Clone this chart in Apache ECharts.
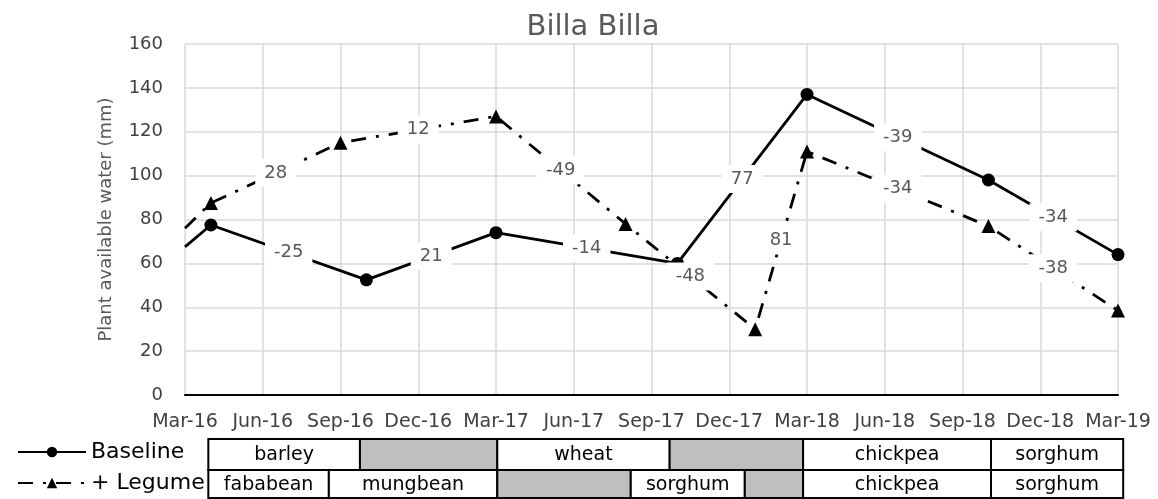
<!DOCTYPE html>
<html lang="en">
<head>
	<meta charset="UTF-8">
	<title>Billa Billa</title>
	<style>
		html, body { margin: 0; padding: 0; background: #fff; }
		#container { width: 1158px; height: 499px; }
	</style>
</head>
<body>
	<div id="container"></div>
	<script src="https://cdn.jsdelivr.net/npm/echarts@6/dist/echarts.min.js"></script>
	<script>
		// axis ticks, quarterly from Mar-16
		var tickLabels = ['Mar-16', 'Jun-16', 'Sep-16', 'Dec-16', 'Mar-17', 'Jun-17', 'Sep-17',
			'Dec-17', 'Mar-18', 'Jun-18', 'Sep-18', 'Dec-18', 'Mar-19'];

		// Baseline series
		var baselineDates = ['2016-03', '2016-04', '2016-10', '2017-03', '2017-10', '2018-03', '2018-10', '2019-03'];
		var baselineValues = [67.5, 77.5, 52.5, 74, 60, 137, 98, 64];
		var baselineChanges = ['', '-25', '21', '-14', '77', '-39', '-34'];

		// + Legume series
		var legumeDates = ['2016-03', '2016-04', '2016-09', '2017-03', '2017-08', '2018-01', '2018-03', '2018-10', '2019-03'];
		var legumeValues = [76, 87.5, 115, 127, 78, 30, 111, 77, 38.5];
		var legumeChanges = ['', '28', '12', '-49', '-48', '81', '-34', '-38'];

		// crop sequence table (months from Mar-16)
		var baselineCrops = ['barley', '', 'wheat', '', 'chickpea', 'sorghum'];
		var baselineCropStart = [0.9, 6.75, 12.05, 18.7, 23.85, 31.1];
		var baselineCropEnd = [6.75, 12.05, 18.7, 23.85, 31.1, 36.2];
		var legumeCrops = ['fababean', 'mungbean', '', 'sorghum', '', 'chickpea', 'sorghum'];
		var legumeCropStart = [0.9, 5.55, 12.05, 17.2, 21.6, 23.85, 31.1];
		var legumeCropEnd = [5.55, 12.05, 17.2, 21.6, 23.85, 31.1, 36.2];

		var FONT = 'DejaVu Sans';

		function monthIdx(s) {
			var p = s.split('-');
			return (Number(p[0]) - 2016) * 12 + (Number(p[1]) - 3);
		}

		function linePoints(dates, values) {
			return dates.map(function(d, i) {
				var item = { value: [monthIdx(d), values[i]] };
				if (i === 0) item.symbol = 'none';
				return item;
			});
		}

		// change labels sit half way along each segment
		var changes = [];
		function addChanges(dates, values, labels) {
			for (var i = 1; i < dates.length; i++) {
				if (!labels[i - 1]) continue;
				changes.push([(monthIdx(dates[i - 1]) + monthIdx(dates[i])) / 2,
					(values[i - 1] + values[i]) / 2, labels[i - 1]]);
			}
		}
		addChanges(baselineDates, baselineValues, baselineChanges);
		addChanges(legumeDates, legumeValues, legumeChanges);

		var cells = [];
		baselineCrops.forEach(function(c, i) { cells.push([baselineCropStart[i], baselineCropEnd[i], 0, c]); });
		legumeCrops.forEach(function(c, i) { cells.push([legumeCropStart[i], legumeCropEnd[i], 1, c]); });

		var rowTop = [439, 470];
		var rowH = [31, 28];

		function renderCell(params, api) {
			var cell = cells[params.dataIndex];
			var x0 = api.coord([cell[0], 0])[0];
			var x1 = api.coord([cell[1], 0])[0];
			var y0 = rowTop[cell[2]];
			var h = rowH[cell[2]];
			return {
				type: 'group',
				children: [{
					type: 'rect',
					shape: { x: x0, y: y0, width: x1 - x0, height: h },
					style: { fill: cell[3] ? '#fff' : '#bfbfbf', stroke: '#000', lineWidth: 2 }
				}, {
					type: 'text',
					style: {
						text: cell[3], x: (x0 + x1) / 2, y: y0 + h / 2 + 1,
						align: 'center', verticalAlign: 'middle',
						fontSize: 19, fontFamily: FONT, fill: '#000'
					}
				}]
			};
		}

		function renderChange(params, api) {
			var c = changes[params.dataIndex];
			var pt = api.coord([c[0], c[1]]);
			return {
				type: 'text',
				x: pt[0],
				y: pt[1],
				style: {
					text: c[2],
					align: 'center',
					verticalAlign: 'middle',
					fontSize: 18,
					fontFamily: FONT,
					fill: '#595959',
					backgroundColor: '#fff',
					padding: [5, 9]
				}
			};
		}

		var myChart = echarts.init(document.getElementById('container'));

		var option = {
			animation: false,
			title: {
				text: 'Billa Billa',
				left: 588,
				textAlign: 'center',
				top: 8,
				textStyle: { fontFamily: FONT, fontSize: 29, fontWeight: 'normal', color: '#595959' }
			},
			legend: {
				data: ['Baseline', '+ Legume'],
				orient: 'vertical',
				left: 12,
				bottom: 0,
				itemWidth: 68,
				itemHeight: 13,
				itemGap: 9,
				textStyle: { fontFamily: FONT, fontSize: 22, color: '#000' }
			},
			grid: {
				left: 185,
				right: 40,
				top: 44,
				bottom: 104
			},
			xAxis: {
				type: 'value',
				min: 0,
				max: 36,
				interval: 3,
				axisLine: { lineStyle: { color: '#000', width: 2 } },
				axisTick: { show: false },
				axisLabel: {
					margin: 18,
					fontFamily: FONT,
					fontSize: 19,
					color: '#404040',
					formatter: function(v) { return tickLabels[v / 3]; }
				},
				splitLine: { show: true, lineStyle: { color: '#d9d9d9', width: 1.5 } }
			},
			yAxis: {
				type: 'value',
				min: 0,
				max: 160,
				interval: 20,
				name: 'Plant available water (mm)',
				nameLocation: 'middle',
				nameGap: 70,
				nameTextStyle: { fontFamily: FONT, fontSize: 18, color: '#595959' },
				axisLine: { show: false },
				axisTick: { show: false },
				axisLabel: { margin: 22, fontFamily: FONT, fontSize: 18, color: '#404040' },
				splitLine: { lineStyle: { color: '#d9d9d9', width: 1.5 } }
			},
			series: [{
				name: 'Baseline',
				type: 'line',
				data: linePoints(baselineDates, baselineValues),
				symbol: 'circle',
				symbolSize: 13,
				itemStyle: { color: '#000' },
				lineStyle: { color: '#000', width: 2.8 },
				z: 3
			}, {
				name: '+ Legume',
				type: 'line',
				data: linePoints(legumeDates, legumeValues),
				symbol: 'triangle',
				symbolSize: 14,
				itemStyle: { color: '#000' },
				lineStyle: { color: '#000', width: 2.8, type: [15, 10, 3, 10] },
				z: 3
			}, {
				type: 'custom',
				data: changes.map(function(c) { return [c[0], c[1]]; }),
				renderItem: renderChange,
				clip: false,
				silent: true,
				z: 5
			}, {
				type: 'custom',
				data: cells.map(function(c) { return [c[0], c[1], c[2]]; }),
				encode: { x: [0, 1], y: 2 },
				renderItem: renderCell,
				clip: false,
				silent: true,
				z: 6
			}]
		};

		myChart.setOption(option);
	</script>
</body>
</html>
